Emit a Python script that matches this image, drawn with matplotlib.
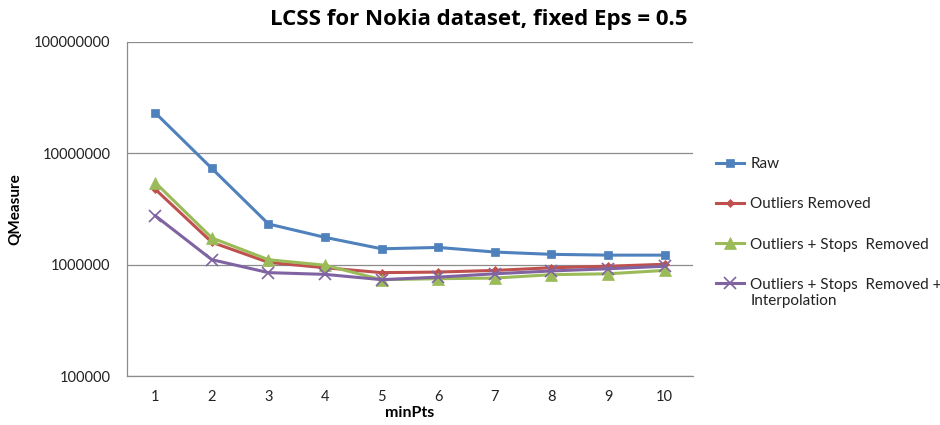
import matplotlib
matplotlib.use("Agg")
import matplotlib.pyplot as plt

plt.rcParams['font.family'] = ['Lato', 'DejaVu Sans']

min_pts = [1, 2, 3, 4, 5, 6, 7, 8, 9, 10]
raw = [2.3e7, 7.3e6, 2.32e6, 1.76e6, 1.39e6, 1.43e6, 1.30e6, 1.24e6, 1.22e6, 1.22e6]
outliers_removed = [4.75e6, 1.59e6, 1.05e6, 9.4e5, 8.5e5, 8.6e5, 8.9e5, 9.4e5, 9.7e5, 1.01e6]
outliers_stops_removed = [5.45e6, 1.74e6, 1.11e6, 9.9e5, 7.35e5, 7.5e5, 7.6e5, 8.15e5, 8.3e5, 8.9e5]
outliers_stops_interp = [2.75e6, 1.11e6, 8.5e5, 8.2e5, 7.35e5, 7.75e5, 8.3e5, 8.8e5, 9.2e5, 9.7e5]

series_labels = ["Raw", "Outliers Removed", "Outliers + Stops  Removed",
                 "Outliers + Stops  Removed +"]
colors = ["#4F81BD", "#C0504D", "#9BBB59", "#8064A2"]
markers = ["s", "D", "^", "x"]
msizes = [6, 4, 8.5, 8]

fig = plt.figure(figsize=(9.4, 4.25), dpi=100)
ax = fig.add_axes([0.1351, 0.1146, 0.6021, 0.7873])

for vals, lab, c, m, ms in zip(
        [raw, outliers_removed, outliers_stops_removed, outliers_stops_interp],
        series_labels, colors, markers, msizes):
    ax.plot(min_pts, vals, color=c, marker=m, markersize=ms, linewidth=2.2,
            markeredgewidth=1.2 if m == "x" else 0.5, label=lab)

ax.set_yscale("log")
ax.set_ylim(1e5, 1e8)
ax.set_xlim(0.5, 10.5)
ax.set_xticks(min_pts)
ax.set_xticklabels([str(v) for v in min_pts])
ax.set_yticks([1e5, 1e6, 1e7, 1e8])
ax.set_yticklabels(["100000", "1000000", "10000000", "100000000"])
ax.yaxis.set_minor_locator(matplotlib.ticker.NullLocator())
ax.tick_params(length=0, labelsize=10.5, colors="#222222", pad=12)
ax.tick_params(axis="x", pad=10)
ax.grid(axis="y", color="#8C8C8C", linewidth=0.9)
ax.set_axisbelow(True)
for s in ["top", "right"]:
    ax.spines[s].set_visible(False)
for s in ["left", "bottom"]:
    ax.spines[s].set_color("#8C8C8C")
    ax.spines[s].set_linewidth(0.9)

ax.set_title("LCSS for Nokia dataset, fixed Eps = 0.5", fontsize=16,
             fontweight="bold", pad=12, x=0.622, family=["Open Sans", "DejaVu Sans"])
ax.set_xlabel("minPts", fontsize=11.5, fontweight="bold", labelpad=1)
ax.set_ylabel("QMeasure", fontsize=11, fontweight="bold", labelpad=8)

leg = ax.legend(loc="upper left", bbox_to_anchor=(0.755, 0.645),
                bbox_transform=fig.transFigure, frameon=False,
                fontsize=11, labelspacing=1.72, handlelength=1.85,
                handletextpad=0.4, borderaxespad=0)

fig.canvas.draw()
last = leg.get_texts()[-1]
bb = last.get_window_extent().transformed(fig.transFigure.inverted())
fig.text(bb.x0, bb.y0 - 0.005, "Interpolation", fontsize=11,
         ha="left", va="top", color="#222222")
for t in leg.get_texts():
    t.set_color("#222222")

fig.savefig("out.png", dpi=100)
